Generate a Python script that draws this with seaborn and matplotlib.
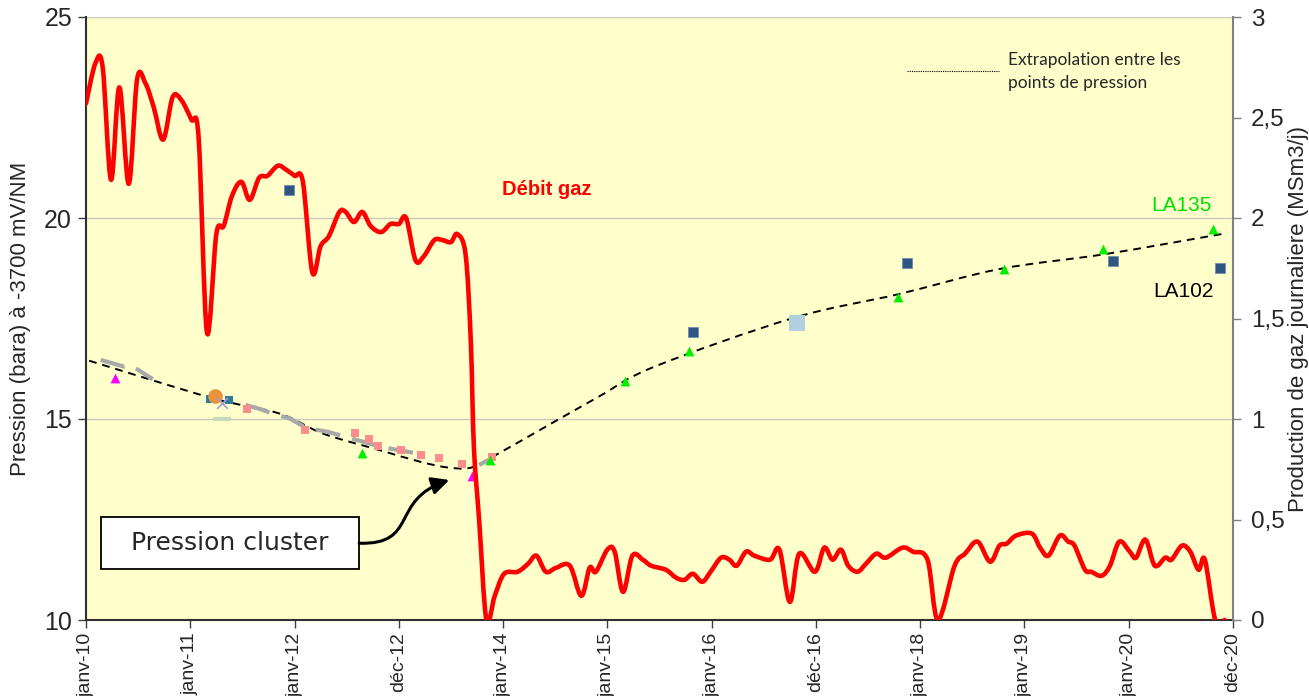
import matplotlib
matplotlib.use("Agg")
import matplotlib.pyplot as plt
import seaborn as sns
from matplotlib import font_manager
from matplotlib.path import Path
from matplotlib.patches import FancyArrowPatch, Rectangle, PathPatch
from matplotlib.ticker import FuncFormatter, MultipleLocator

# ---- time axis (decimal years) and tick labels ----
tick_pos = [2010, 2011, 2012, 2013, 2014, 2015, 2016, 2017, 2018, 2019, 2020, 2021]
tick_labels = ["janv-10", "janv-11", "janv-12", "déc-12", "janv-14", "janv-15",
               "janv-16", "déc-16", "janv-18", "janv-19", "janv-20", "déc-20"]

# ---- daily gas production (MSm3/j), right axis ----
debit_t = [2010.00, 2010.09, 2010.16, 2010.24, 2010.32, 2010.41, 2010.49, 2010.57, 2010.65, 2010.74,
           2010.83, 2010.91, 2011.01, 2011.08, 2011.16, 2011.25, 2011.32, 2011.40, 2011.49, 2011.57,
           2011.66, 2011.74, 2011.84, 2011.92, 2012.00, 2012.08, 2012.17, 2012.25, 2012.33, 2012.43,
           2012.49, 2012.57, 2012.65, 2012.73, 2012.83, 2012.92, 2013.00, 2013.07, 2013.16, 2013.24,
           2013.34, 2013.42, 2013.50, 2013.56, 2013.64, 2013.69, 2013.72, 2013.77, 2013.84, 2013.92,
           2014.01, 2014.14, 2014.24, 2014.32, 2014.41, 2014.51, 2014.64, 2014.75, 2014.83, 2014.89,
           2015.00, 2015.07, 2015.15, 2015.24, 2015.34, 2015.42, 2015.56, 2015.66, 2015.74, 2015.82,
           2015.91, 2015.99, 2016.09, 2016.17, 2016.24, 2016.33, 2016.41, 2016.56, 2016.65, 2016.75,
           2016.84, 2016.99, 2017.08, 2017.16, 2017.24, 2017.31, 2017.40, 2017.48, 2017.58, 2017.67,
           2017.83, 2017.93, 2018.07, 2018.17, 2018.33, 2018.43, 2018.55, 2018.67, 2018.76, 2018.83,
           2018.92, 2019.07, 2019.15, 2019.23, 2019.34, 2019.42, 2019.48, 2019.58, 2019.64, 2019.74,
           2019.82, 2019.91, 2020.01, 2020.07, 2020.16, 2020.25, 2020.35, 2020.41, 2020.51, 2020.59,
           2020.67, 2020.73, 2020.83, 2020.92]
debit_v = [2.57, 2.77, 2.75, 2.19, 2.65, 2.17, 2.69, 2.67, 2.55, 2.39,
           2.60, 2.59, 2.49, 2.40, 1.43, 1.92, 1.96, 2.11, 2.18, 2.09,
           2.20, 2.21, 2.26, 2.24, 2.21, 2.18, 1.73, 1.86, 1.91, 2.03,
           2.03, 1.98, 2.03, 1.96, 1.93, 1.97, 1.97, 2.00, 1.79, 1.81,
           1.89, 1.89, 1.88, 1.92, 1.82, 1.39, 0.86, 0.50, 0.00, 0.12,
           0.23, 0.24, 0.28, 0.32, 0.24, 0.26, 0.27, 0.12, 0.26, 0.24,
           0.35, 0.34, 0.14, 0.32, 0.30, 0.27, 0.25, 0.21, 0.20, 0.23,
           0.19, 0.24, 0.31, 0.30, 0.27, 0.34, 0.32, 0.30, 0.35, 0.09,
           0.33, 0.24, 0.36, 0.30, 0.35, 0.27, 0.24, 0.28, 0.33, 0.31,
           0.36, 0.34, 0.30, 0.00, 0.27, 0.33, 0.39, 0.29, 0.37, 0.38,
           0.42, 0.43, 0.36, 0.32, 0.42, 0.39, 0.37, 0.25, 0.24, 0.22,
           0.27, 0.39, 0.34, 0.31, 0.40, 0.27, 0.31, 0.30, 0.37, 0.34,
           0.25, 0.30, 0.00, 0.00]

# ---- pressure (bara at -3700 mV/NM), left axis ----
# extrapolation between pressure points
extrap_t = [2010.03, 2011.21, 2011.85, 2012.27, 2012.81, 2013.20, 2013.45, 2013.64, 2013.77,
            2013.90, 2014.16, 2014.92, 2015.45, 2016.78, 2017.80, 2018.76, 2019.77, 2020.89]
extrap_p = [16.45, 15.52, 15.14, 14.64, 14.23, 13.94, 13.80, 13.77, 13.86,
            14.06, 14.44, 15.56, 16.30, 17.51, 18.11, 18.73, 19.10, 19.60]

# continuous gauge record (gaps are missing readings)
gauge_t = [2010.14, 2010.37, 2010.43, 2010.64, None,
           2011.53, 2011.68, 2011.80, 2011.95, 2012.11, 2012.32, 2012.84, 2013.16, None,
           2013.77, 2013.90]
gauge_p = [16.47, 16.30, 16.34, 15.99, None,
           15.35, 15.24, 15.12, 15.02, 14.78, 14.68, 14.30, 14.15, None,
           13.86, 14.03]

# LA102 pressure points
la102_t = [2011.95, 2015.82, 2017.87, 2019.85, 2020.88]
la102_p = [20.70, 17.17, 18.89, 18.93, 18.76]

# LA135 pressure points
la135_t = [2012.65, 2013.87, 2015.17, 2015.78, 2017.79, 2018.80, 2019.75, 2020.81]
la135_p = [14.15, 13.98, 15.95, 16.69, 18.04, 18.74, 19.22, 19.72]

# other wells
pink_t = [2011.54, 2012.10, 2012.58, 2012.71, 2012.80, 2013.02, 2013.21, 2013.39, 2013.61, 2013.89]
pink_p = [15.25, 14.73, 14.66, 14.50, 14.33, 14.23, 14.10, 14.03, 13.88, 14.06]

magenta_t = [2010.28, 2013.70]
magenta_p = [16.01, 13.58]

teal_t = [2011.19, 2011.37]
teal_p = [15.50, 15.47]

orange_t = [2011.24]
orange_p = [15.57]

cross_t = [2011.30]
cross_p = [15.40]

dash_t = [2011.30]
dash_p = [15.00]

lightblue_t = [2016.82]
lightblue_p = [17.40]


def smooth_path(xs, ys):
    """Smoothed line through every point (Bezier segments, spreadsheet style)."""
    n = len(xs)
    verts = [(xs[0], ys[0])]
    codes = [Path.MOVETO]
    for i in range(n - 1):
        x0, y0 = xs[max(i - 1, 0)], ys[max(i - 1, 0)]
        x1, y1 = xs[i], ys[i]
        x2, y2 = xs[i + 1], ys[i + 1]
        x3, y3 = xs[min(i + 2, n - 1)], ys[min(i + 2, n - 1)]
        verts += [(x1 + (x2 - x0) / 6, y1 + (y2 - y0) / 6),
                  (x2 - (x3 - x1) / 6, y2 - (y3 - y1) / 6),
                  (x2, y2)]
        codes += [Path.CURVE4] * 3
    return Path(verts, codes)


# ---- styling ----
sns.set_theme(style="white")
names = {f.name for f in font_manager.fontManager.ttflist}
base_font = "Liberation Sans" if "Liberation Sans" in names else "DejaVu Sans"
calib_font = "Lato" if "Lato" in names else base_font
plt.rcParams["font.family"] = [base_font, "DejaVu Sans"]

fig = plt.figure(figsize=(13.09, 6.96), dpi=100)
fig.patch.set_facecolor("white")
ax = fig.add_axes([86 / 1309, 76 / 696, 1147 / 1309, 603 / 696])
ax.set_facecolor("#FFFFCC")
ax2 = ax.twinx()

# left axis: pressure
ax.set_xlim(2010, 2021)
ax.set_ylim(10, 25)
ax.yaxis.set_major_locator(MultipleLocator(5))
ax.yaxis.grid(True, color="#C8C8C0", lw=1.0)
ax.set_axisbelow(True)

ax.add_patch(PathPatch(smooth_path(extrap_t, extrap_p), fill=False, edgecolor="black",
                       lw=1.4, linestyle=(0, (4, 3)), zorder=2))

gx = [v if v is not None else float("nan") for v in gauge_t]
gy = [v if v is not None else float("nan") for v in gauge_p]
ax.plot(gx, gy, color="#A8A8A8", lw=3.0, dashes=[6, 3], solid_capstyle="butt", zorder=2)

sns.scatterplot(x=pink_t, y=pink_p, ax=ax, marker="s", color="#FF8C8C", s=38, linewidth=0, zorder=3)
sns.scatterplot(x=la102_t, y=la102_p, ax=ax, marker="s", color="#2F5583", s=50,
                edgecolor="#6F8DB0", linewidth=0.6, zorder=3)
sns.scatterplot(x=la135_t, y=la135_p, ax=ax, marker="^", color="#00F000", s=50, linewidth=0, zorder=3)
sns.scatterplot(x=magenta_t, y=magenta_p, ax=ax, marker="^", color="#FF00FF", s=50, linewidth=0, zorder=3)
sns.scatterplot(x=teal_t, y=teal_p, ax=ax, marker="s", color="#31799A", s=40, linewidth=0, zorder=3)
sns.scatterplot(x=orange_t, y=orange_p, ax=ax, marker="o", color="#E8923E", s=110, linewidth=0, zorder=4)
sns.scatterplot(x=cross_t, y=cross_p, ax=ax, marker="x", color="#A8A0D0", s=60, linewidth=1.2, zorder=4)
sns.scatterplot(x=dash_t, y=dash_p, ax=ax, marker="_", color="#C8D8B8", s=160, linewidth=3, zorder=3)
sns.scatterplot(x=lightblue_t, y=lightblue_p, ax=ax, marker="s", color="#B0D0E0", s=120, linewidth=0, zorder=3)

# right axis: gas rate (smoothed red line)
ax2.set_ylim(0, 3)
ax2.yaxis.set_major_locator(MultipleLocator(0.5))
ax2.add_patch(PathPatch(smooth_path(debit_t, debit_v), fill=False, edgecolor="#FF0000",
                        lw=3.3, capstyle="round", joinstyle="round", zorder=5))
ax2.yaxis.set_major_formatter(FuncFormatter(lambda v, _: f"{v:g}".replace(".", ",")))

# axes, ticks, labels
ax.set_xticks(tick_pos)
ax.set_xticklabels(tick_labels, rotation=90, fontsize=14)
ax.tick_params(axis="x", length=6, width=1, color="#404040", direction="out", bottom=True, pad=3)
ax.tick_params(axis="y", length=6, width=1, color="#404040", direction="out", left=True,
               labelsize=18, pad=4)
ax2.tick_params(axis="y", length=6, width=1, color="#808080", direction="out", right=True,
                labelsize=17.5, pad=7)
ax.set_xlabel("")
ax.set_ylabel("Pression (bara) à -3700 mV/NM", fontsize=16)
ax2.set_ylabel("Production de gaz journaliere (MSm3/j)", fontsize=16)
ax.yaxis.label.set_va("center")
ax2.yaxis.label.set_va("center")
ax.yaxis.set_label_coords(-0.057, 0.5)
ax2.yaxis.set_label_coords(1.0567, 0.5)

for s in ["top", "right"]:
    ax.spines[s].set_visible(False)
ax.spines["left"].set_color("#303030")
ax.spines["left"].set_linewidth(1.5)
ax.spines["bottom"].set_color("#303030")
ax.spines["bottom"].set_linewidth(1.5)
for s in ["top", "left", "bottom"]:
    ax2.spines[s].set_visible(False)
ax2.spines["right"].set_color("#808080")
ax2.spines["right"].set_linewidth(1.5)

# text annotations
ax.text(2014.42, 20.70, "Débit gaz", color="#FF0000", fontsize=14.5, fontweight="bold",
        ha="center", va="center", zorder=6)
ax.text(2020.51, 20.32, "LA135", color="#00E000", fontsize=15, ha="center", va="center")
ax.text(2020.52, 18.16, "LA102", color="black", fontsize=15, ha="center", va="center")
ax.plot([2017.87, 2018.76], [23.66, 23.66], color="black", lw=0.8, ls=(0, (1, 1)))
ax.text(2018.84, 23.64, "Extrapolation entre les\npoints de pression", family=calib_font,
        fontsize=12.5, ha="left", va="center", linespacing=1.55)

# call-out box and curved arrow
ax.add_patch(Rectangle((2010.146, 11.261), 2.474, 1.294, facecolor="white",
                       edgecolor="black", lw=1.3, zorder=6))
ax.text(2011.383, 11.91, "Pression cluster", family="DejaVu Sans", fontsize=18,
        ha="center", va="center", zorder=7)
arrow_path = Path([(2012.62, 11.91), (2013.196, 11.866), (2012.908, 12.985), (2013.484, 13.483)],
                  [Path.MOVETO, Path.CURVE4, Path.CURVE4, Path.CURVE4])
ax.add_patch(FancyArrowPatch(path=arrow_path, arrowstyle="-|>", mutation_scale=26,
                             lw=2.2, color="black", transform=ax.transData, zorder=7))

fig.savefig("out.png", dpi=100, facecolor="white")
